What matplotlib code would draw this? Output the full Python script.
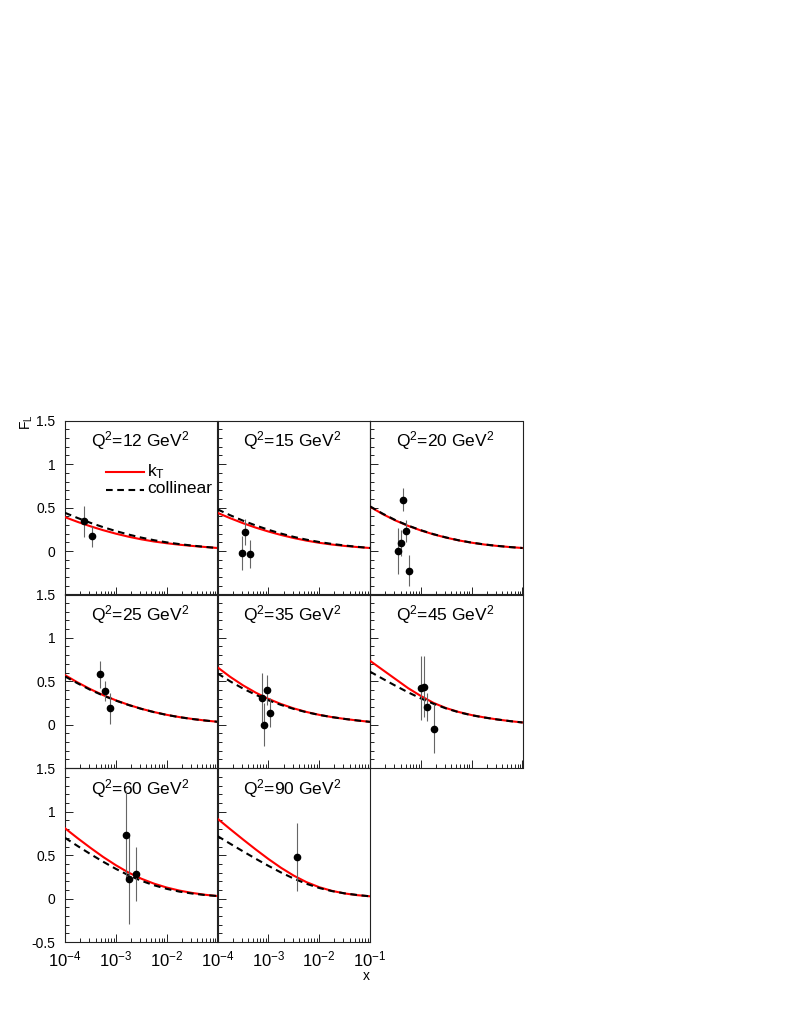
import numpy as np
import matplotlib
matplotlib.use("Agg")
import matplotlib.pyplot as plt
from matplotlib.ticker import FixedLocator, FixedFormatter, LogLocator, NullFormatter, MultipleLocator

plt.rcParams['font.family'] = ['Liberation Sans', 'DejaVu Sans']
plt.rcParams['mathtext.fontset'] = 'custom'
plt.rcParams['mathtext.rm'] = 'Liberation Sans'
plt.rcParams['mathtext.it'] = 'Liberation Sans:italic'
plt.rcParams['mathtext.bf'] = 'Liberation Sans:bold'

# ---------------- data ----------------
q2_values = [12, 15, 20, 25, 35, 45, 60, 90]

data_x = [
    [2.37e-4, 3.37e-4],
    [3.1e-4, 3.5e-4, 4.3e-4],
    [3.63e-4, 4.03e-4, 4.48e-4, 5.13e-4, 5.98e-4],
    [4.9e-4, 6.2e-4, 7.6e-4],
    [7.4e-4, 8.1e-4, 9.4e-4, 1.06e-3],
    [1.01e-3, 1.15e-3, 1.33e-3, 1.78e-3],
    [1.6e-3, 1.85e-3, 2.48e-3],
    [3.68e-3],
]
data_y = [
    [0.343, 0.17],
    [-0.023, 0.216, -0.038],
    [0.0, 0.097, 0.593, 0.23, -0.226],
    [0.578, 0.387, 0.188],
    [0.31, 0.0, 0.398, 0.138],
    [0.418, 0.436, 0.2, -0.046],
    [0.738, 0.23, 0.284],
    [0.482],
]
data_err = [
    [0.18, 0.12],
    [0.2, 0.15, 0.16],
    [0.26, 0.15, 0.13, 0.125, 0.18],
    [0.16, 0.11, 0.18],
    [0.28, 0.25, 0.17, 0.17],
    [0.37, 0.35, 0.16, 0.28],
    [0.5, 0.52, 0.31],
    [0.39],
]

# theory curves sampled at log10(x) = -4.0, -3.75, ..., -1.0
curve_logx = [-4.0, -3.75, -3.5, -3.25, -3.0, -2.75, -2.5, -2.25, -2.0, -1.75, -1.5, -1.25, -1.0]
kt_curves = [
    [0.39, 0.335, 0.285, 0.24, 0.20, 0.165, 0.135, 0.11, 0.09, 0.073, 0.059, 0.047, 0.035],
    [0.44, 0.378, 0.321, 0.27, 0.225, 0.185, 0.15, 0.12, 0.095, 0.075, 0.059, 0.046, 0.035],
    [0.51, 0.425, 0.352, 0.29, 0.237, 0.192, 0.154, 0.122, 0.096, 0.075, 0.059, 0.046, 0.035],
    [0.57, 0.485, 0.408, 0.34, 0.28, 0.228, 0.183, 0.145, 0.113, 0.087, 0.066, 0.048, 0.033],
    [0.66, 0.55, 0.453, 0.369, 0.297, 0.237, 0.187, 0.146, 0.113, 0.087, 0.066, 0.048, 0.032],
    [0.735, 0.63, 0.525, 0.42, 0.33, 0.25, 0.19, 0.145, 0.11, 0.083, 0.06, 0.041, 0.025],
    [0.81, 0.695, 0.585, 0.48, 0.385, 0.30, 0.23, 0.173, 0.128, 0.093, 0.066, 0.045, 0.03],
    [0.92, 0.80, 0.682, 0.567, 0.457, 0.355, 0.265, 0.19, 0.132, 0.09, 0.06, 0.04, 0.027],
]
coll_curves = [
    [0.44, 0.38, 0.325, 0.275, 0.23, 0.19, 0.155, 0.125, 0.10, 0.08, 0.063, 0.048, 0.035],
    [0.48, 0.412, 0.35, 0.295, 0.245, 0.201, 0.163, 0.131, 0.104, 0.082, 0.064, 0.049, 0.035],
    [0.515, 0.43, 0.356, 0.293, 0.24, 0.194, 0.156, 0.123, 0.097, 0.076, 0.06, 0.046, 0.035],
    [0.555, 0.475, 0.40, 0.335, 0.277, 0.226, 0.182, 0.144, 0.112, 0.086, 0.065, 0.048, 0.033],
    [0.59, 0.498, 0.416, 0.344, 0.281, 0.227, 0.181, 0.143, 0.112, 0.087, 0.066, 0.048, 0.032],
    [0.61, 0.528, 0.448, 0.372, 0.302, 0.24, 0.186, 0.142, 0.108, 0.082, 0.06, 0.041, 0.025],
    [0.70, 0.605, 0.513, 0.425, 0.343, 0.269, 0.206, 0.154, 0.113, 0.081, 0.059, 0.042, 0.03],
    [0.72, 0.632, 0.545, 0.46, 0.378, 0.301, 0.231, 0.171, 0.123, 0.087, 0.061, 0.042, 0.027],
]

y_ticks = [-0.5, 0, 0.5, 1, 1.5]
y_tick_labels = ['-0.5', '0', '0.5', '1', '1.5']
x_ticks = [1e-4, 1e-3, 1e-2, 1e-1]
x_tick_labels = [r'$10^{-4}$', r'$10^{-3}$', r'$10^{-2}$', r'$10^{-1}$']

# ---------------- layout ----------------
W, H = 789, 1021
fig = plt.figure(figsize=(W / 100, H / 100), dpi=100)

col_left = [65, 217.5, 370]
row_top = [420.7, 594.3, 768.3]
pw, ph = 152.5, 173.8

frame_col = '#222222'
for i, q2 in enumerate(q2_values):
    r, c = divmod(i, 3)
    ax = fig.add_axes([col_left[c] / W, 1 - (row_top[r] + ph) / H, pw / W, ph / H])
    ax.set_xscale('log')
    ax.set_xlim(1e-4, 1e-1)
    ax.set_ylim(-0.5, 1.5)
    ax.patch.set_alpha(0)
    for s in ax.spines.values():
        s.set_color(frame_col)
        s.set_linewidth(0.8)

    cx = 10 ** np.array(curve_logx)
    ax.plot(cx, kt_curves[i], color='#ff0000', lw=1.5, solid_joinstyle='round', zorder=3)
    ax.plot(cx, coll_curves[i], color='black', lw=1.5, ls=(0, (3.2, 2.2)), zorder=3)
    ax.errorbar(data_x[i], data_y[i], yerr=data_err[i], fmt='o', color='black',
                ms=4.5, ecolor='#666666', elinewidth=0.8, capsize=0, zorder=4)

    ax.text(0.49, 0.885, r'Q$^{2}$=%d GeV$^{2}$' % q2, transform=ax.transAxes,
            ha='center', va='center', fontsize=12.5)

    # ticks
    ax.tick_params(which='both', direction='in', top=False, right=False, colors=frame_col,
                   labelsize=10, width=0.7)
    ax.tick_params(which='major', length=6)
    ax.tick_params(which='minor', length=3)
    ax.yaxis.set_major_locator(FixedLocator(y_ticks))
    ax.yaxis.set_minor_locator(MultipleLocator(0.1))
    ax.xaxis.set_major_locator(FixedLocator(x_ticks))
    ax.xaxis.set_minor_locator(LogLocator(base=10, subs=np.arange(2, 10)))
    ax.xaxis.set_minor_formatter(NullFormatter())
    ax.tick_params(axis='y', labelcolor='black', pad=7)
    ax.tick_params(axis='x', labelcolor='black', pad=5)

    if c == 0:
        labs = list(y_tick_labels)
        if r < 2:
            labs[0] = ''
        ax.yaxis.set_major_formatter(FixedFormatter(labs))
    else:
        ax.yaxis.set_major_formatter(NullFormatter())

    if r == 2:
        labs = list(x_tick_labels)
        if c == 0:
            labs[-1] = ''
        ax.xaxis.set_major_formatter(FixedFormatter(labs))
        for t in ax.get_xticklabels():
            t.set_fontsize(12)
    else:
        ax.xaxis.set_major_formatter(NullFormatter())

    if i == 0:
        ax.plot([0.269, 0.518], [0.706, 0.706], transform=ax.transAxes, color='#ff0000', lw=1.5)
        ax.plot([0.269, 0.518], [0.604, 0.604], transform=ax.transAxes, color='black', lw=1.5,
                ls=(0, (3.2, 2.2)))
        ax.text(0.537, 0.706, r'k$_{\mathrm{T}}$', transform=ax.transAxes, ha='left', va='center',
                fontsize=12.5)
        ax.text(0.537, 0.612, 'collinear', transform=ax.transAxes, ha='left', va='center',
                fontsize=12.5)

fig.text(27 / W, 1 - 422 / H, r'F$_{\mathrm{L}}$', rotation=90, ha='center', va='center', fontsize=10)
fig.text(370 / W, 1 - 976 / H, 'x', ha='right', va='center', fontsize=10)

fig.savefig('out.png', dpi=100)
